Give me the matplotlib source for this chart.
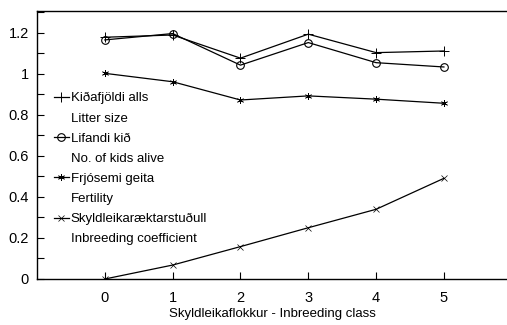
import matplotlib
matplotlib.use("Agg")
import matplotlib.pyplot as plt
from matplotlib.lines import Line2D
from matplotlib.ticker import MultipleLocator

plt.rcParams['font.family'] = ['Liberation Sans', 'DejaVu Sans']

# Inbreeding classes
classes = [0, 1, 2, 3, 4, 5]
litter_size = [1.179, 1.19, 1.077, 1.194, 1.104, 1.112]
kids_alive = [1.166, 1.197, 1.043, 1.153, 1.055, 1.034]
fertility = [1.003, 0.962, 0.873, 0.893, 0.877, 0.857]
inbreeding = [0.0, 0.068, 0.158, 0.25, 0.34, 0.491]

names_is = ["Kiðafjöldi alls", "Lifandi kið", "Frjósemi geita", "Skyldleikaræktarstuðull"]
names_en = ["Litter size", "No. of kids alive", "Fertility", "Inbreeding coefficient"]

fig = plt.figure(figsize=(5.07, 3.25), dpi=100)
ax = fig.add_axes([37 / 507, 1 - 279 / 325, 1 - 37 / 507, (279 - 11) / 325])

lw = 0.9
l1, = ax.plot(classes, litter_size, color='black', lw=lw, marker='+', ms=7, mew=0.7)
l2, = ax.plot(classes, kids_alive, color='black', lw=lw, marker='o', ms=5.5, mfc='none', mew=0.8)
l3, = ax.plot(classes, fertility, color='black', lw=lw, marker=(6, 2, 0), ms=5, mew=0.5)
l4, = ax.plot(classes, inbreeding, color='black', lw=lw, marker='x', ms=5, mew=0.5)

ax.set_xlim(-1, 5.93)
ax.set_ylim(0, 1.307)
ax.set_xticks(classes)
ax.yaxis.set_minor_locator(MultipleLocator(0.1))
ax.set_yticks([0, 0.2, 0.4, 0.6, 0.8, 1.0, 1.2])
ax.set_yticklabels(['0', '0.2', '0.4', '0.6', '0.8', '1', '1.2'])

ax.spines['right'].set_visible(False)
for s in ['left', 'top', 'bottom']:
    ax.spines[s].set_linewidth(1.0)
ax.tick_params(direction='in', length=5, width=0.8, labelsize=10.5, pad=6, top=False, right=False)
ax.tick_params(axis='x', pad=9)
ax.tick_params(which='minor', direction='in', length=5, width=0.8)

ax.set_xlabel("Skyldleikaflokkur - Inbreeding class", fontsize=9.5, labelpad=2)

# legend: marker on the Icelandic line, English line below it
blank = Line2D([], [], visible=False)
handles, texts = [], []
for h, a, b in zip([l1, l2, l3, l4], names_is, names_en):
    handles += [h, blank]
    texts += [a, b]
leg = ax.legend(handles, texts, loc='upper left', bbox_to_anchor=(0.025, 0.717), frameon=False,
                fontsize=9.5, handlelength=1.1, handletextpad=0.15,
                labelspacing=0.6, borderaxespad=0.0)

fig.savefig("out.png", dpi=100)
